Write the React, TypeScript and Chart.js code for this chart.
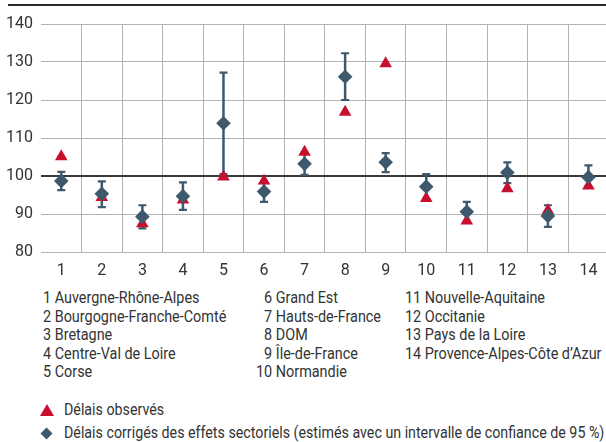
import React, { useEffect, useRef } from 'react';
import { Chart, registerables } from 'chart.js';

Chart.register(...registerables);

const categories = ['1', '2', '3', '4', '5', '6', '7', '8', '9', '10', '11', '12', '13', '14'];
const observed = [105.1, 94.4, 87.5, 93.7, 99.8, 98.7, 106.3, 116.8, 129.6, 94.1, 88.2, 96.7, 90.9, 97.4];
const corrected = [98.7, 95.3, 89.3, 94.7, 113.9, 95.9, 103.2, 126.1, 103.6, 97.2, 90.6, 100.9, 89.5, 99.7];
const ciLow = [96.3, 91.8, 86.2, 91.1, 100.5, 93.2, 100.3, 120.0, 101.0, 93.9, 88.0, 98.1, 86.6, 96.9];
const ciHigh = [101.1, 98.6, 92.3, 98.3, 127.2, 98.6, 106.1, 132.3, 106.0, 100.5, 93.2, 103.6, 92.3, 102.8];
const yTicks = [80, 90, 100, 110, 120, 130, 140];
const regionNames = [
  'Auvergne-Rhône-Alpes',
  'Bourgogne-Franche-Comté',
  'Bretagne',
  'Centre-Val de Loire',
  'Corse',
  'Grand Est',
  'Hauts-de-France',
  'DOM',
  'Île-de-France',
  'Normandie',
  'Nouvelle-Aquitaine',
  'Occitanie',
  'Pays de la Loire',
  'Provence-Alpes-Côte d’Azur',
];
const legendObserved = 'Délais observés';
const legendCorrected = 'Délais corrigés des effets sectoriels (estimés avec un intervalle de confiance de 95 %)';

const RED = '#c8102e';
const SLATE = '#3e596c';
const TEXT = '#333333';
const GRID = '#b3b3b3';
const FONT = "Roboto, sans-serif";

const errorBars = {
  id: 'errorBars',
  beforeDatasetsDraw(chart: any) {
    const { ctx, scales } = chart;
    const x = scales.x;
    const y = scales.y;
    ctx.save();
    ctx.strokeStyle = SLATE;
    ctx.fillStyle = SLATE;
    for (let i = 0; i < categories.length; i++) {
      const px = x.getPixelForValue(i);
      const yl = y.getPixelForValue(ciLow[i]);
      const yh = y.getPixelForValue(ciHigh[i]);
      ctx.lineWidth = 2.5;
      ctx.beginPath();
      ctx.moveTo(px, yl);
      ctx.lineTo(px, yh);
      ctx.stroke();
      ctx.lineWidth = 2.2;
      ctx.beginPath();
      ctx.moveTo(px - 4, yl);
      ctx.lineTo(px + 4, yl);
      ctx.moveTo(px - 4, yh);
      ctx.lineTo(px + 4, yh);
      ctx.stroke();
    }
    ctx.restore();
  },
};

function ChartCanvas() {
  const ref = useRef<HTMLCanvasElement | null>(null);
  useEffect(() => {
    if (!ref.current) return;
    const chart = new Chart(ref.current, {
      type: 'line',
      data: {
        labels: categories,
        datasets: [
          {
            label: legendCorrected,
            data: corrected,
            showLine: false,
            pointStyle: 'rectRot',
            pointRadius: 7.3,
            pointHoverRadius: 7.3,
            backgroundColor: SLATE,
            borderColor: SLATE,
            pointBorderWidth: 0,
          },
          {
            label: legendObserved,
            data: observed,
            showLine: false,
            pointStyle: 'triangle',
            pointRadius: 7.3,
            pointHoverRadius: 7.3,
            backgroundColor: RED,
            borderColor: RED,
            pointBorderWidth: 0,
          },
        ],
      },
      options: {
        responsive: false,
        animation: false,
        events: [],
        layout: { padding: { top: 24, left: 0, right: 0, bottom: 0 } },
        plugins: { legend: { display: false }, tooltip: { enabled: false } },
        scales: {
          x: {
            type: 'category',
            offset: true,
            grid: {
              offset: true,
              drawTicks: false,
              color: (c: any) => (c.index === 0 ? 'rgba(0,0,0,0)' : GRID),
              lineWidth: 1,
            },
            border: { display: false },
            ticks: { padding: 9, color: TEXT, font: { family: FONT, size: 16 } },
            afterFit: (s: any) => {
              s.height = 33;
              s.paddingLeft = 0;
              s.paddingRight = 0;
            },
          },
          y: {
            min: 80,
            max: 140,
            afterBuildTicks: (s: any) => {
              s.ticks = yTicks.map((v) => ({ value: v }));
            },
            grid: {
              drawTicks: false,
              color: (c: any) => (c.tick && c.tick.value === 100 ? '#3a3a3a' : GRID),
              lineWidth: (c: any) => (c.tick && c.tick.value === 100 ? 2 : 1),
            },
            border: { display: false },
            ticks: { padding: 8, color: TEXT, font: { family: FONT, size: 16 } },
            afterFit: (s: any) => {
              s.width = 41;
            },
          },
        },
      },
      plugins: [errorBars],
    } as any);
    return () => chart.destroy();
  }, []);
  return <canvas ref={ref} width={616} height={285} style={{ display: 'block' }} />;
}

export default function App() {
  const rowH = 18.5;
  const colStyle = (left: number): React.CSSProperties => ({
    position: 'absolute',
    left,
    top: 289,
    lineHeight: rowH + 'px',
    whiteSpace: 'nowrap',
    transform: 'scaleX(0.9)',
    transformOrigin: 'left top',
  });
  const lineStyle = (top: number): React.CSSProperties => ({
    position: 'absolute',
    left: 64,
    top,
    lineHeight: '20px',
    whiteSpace: 'nowrap',
    transform: 'scaleX(0.89)',
    transformOrigin: 'left top',
  });
  const col1 = regionNames.slice(0, 5).map((n, i) => ({ num: i + 1, name: n }));
  const col2 = regionNames.slice(5, 10).map((n, i) => ({ num: i + 6, name: n }));
  const col3 = regionNames.slice(10).map((n, i) => ({ num: i + 11, name: n }));
  return (
    <div
      style={{
        position: 'fixed',
        left: 0,
        top: 0,
        width: 606,
        height: 442,
        overflow: 'hidden',
        background: '#fff',
        fontFamily: FONT,
        fontSize: 16,
        color: TEXT,
      }}
    >
      <div style={{ position: 'absolute', left: 8, right: 0, top: 4, height: 2, background: '#2b2b2b' }} />
      <ChartCanvas />
      <div style={colStyle(43)}>
        {col1.map((r) => (
          <div key={r.num}>
            {r.num} {r.name}
          </div>
        ))}
      </div>
      <div style={colStyle(256)}>
        {col2.map((r) => (
          <div key={r.num}>
            <span style={{ display: 'inline-block', width: 18, textAlign: 'right' }}>{r.num}</span> {r.name}
          </div>
        ))}
      </div>
      <div style={colStyle(405)}>
        {col3.map((r) => (
          <div key={r.num}>
            {r.num} {r.name}
          </div>
        ))}
      </div>
      <svg style={{ position: 'absolute', left: 39, top: 403 }} width={16} height={14}>
        <polygon points="8,1 15,13 1,13" fill={RED} />
      </svg>
      <svg style={{ position: 'absolute', left: 40, top: 427 }} width={13} height={13}>
        <polygon points="6.5,0.5 12.5,6.5 6.5,12.5 0.5,6.5" fill={SLATE} />
      </svg>
      <div style={lineStyle(400)}>{legendObserved}</div>
      <div style={lineStyle(423)}>{legendCorrected}</div>
    </div>
  );
}
